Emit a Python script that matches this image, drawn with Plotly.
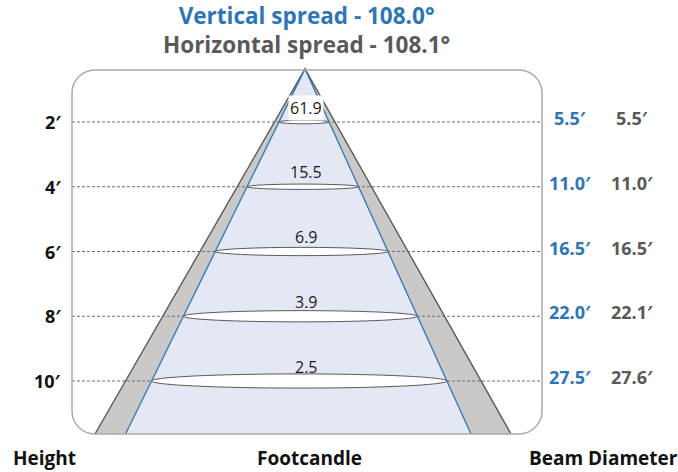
import plotly.graph_objects as go

# ---------------- data ----------------
heights = [2, 4, 6, 8, 10]                      # mounting height (ft)
footcandles = [61.9, 15.5, 6.9, 3.9, 2.5]       # footcandle at each height
vertical_diam = [5.5, 11.0, 16.5, 22.0, 27.5]   # beam diameter, vertical (ft)
horizontal_diam = [5.5, 11.0, 16.5, 22.1, 27.6] # beam diameter, horizontal (ft)
vertical_spread = 108.0
horizontal_spread = 108.1

# ---------------- geometry / style ----------------
W, H = 678, 472
PX_PER_FT = 32.375
Y0 = 57.25


def ft(px):
    return (px - Y0) / PX_PER_FT


BLUE = "#2e75b6"
GREY_T = "#595959"
FONT = "Open Sans"

APEX_X = 305
APEX_H = ft(69)
BASE_H = ft(434)
BLUE_BASE = (125.5, 471)
GREY_BASE = (95, 511)
BOX_L, BOX_R, BOX_T, BOX_B = 72, 542, ft(70), ft(434)


def edge(xb, h):
    return APEX_X + (xb - APEX_X) * (h - APEX_H) / (BASE_H - APEX_H)


fig = go.Figure()
fig.add_trace(go.Scatter(x=[0, W], y=[ft(0), ft(H)], mode="markers",
                         marker=dict(opacity=0), hoverinfo="skip", showlegend=False))

shapes = []
# grey outer cone
shapes.append(dict(type="path", xref="x", yref="y",
                   path=f"M {GREY_BASE[0]},{BASE_H} L {APEX_X},{APEX_H} L {GREY_BASE[1]},{BASE_H} Z",
                   fillcolor="#cbc9c7", line=dict(width=0), layer="below"))
shapes.append(dict(type="path", xref="x", yref="y",
                   path=f"M {GREY_BASE[0]},{BASE_H} L {APEX_X},{APEX_H} L {GREY_BASE[1]},{BASE_H}",
                   line=dict(color="#5a5a5a", width=1.4), layer="below"))
# blue inner cone
shapes.append(dict(type="path", xref="x", yref="y",
                   path=f"M {BLUE_BASE[0]},{BASE_H} L {APEX_X},{APEX_H} L {BLUE_BASE[1]},{BASE_H} Z",
                   fillcolor="#e4e8f5", line=dict(width=0), layer="below"))
shapes.append(dict(type="path", xref="x", yref="y",
                   path=f"M {BLUE_BASE[0]},{BASE_H} L {APEX_X},{APEX_H} L {BLUE_BASE[1]},{BASE_H}",
                   line=dict(color=BLUE, width=1.3), layer="below"))

# dashed height lines and ellipses
for h in heights:
    shapes.append(dict(type="line", xref="x", yref="y", x0=BOX_L, x1=BOX_R, y0=h, y1=h,
                       line=dict(color="#6e6e6e", width=1, dash="3px,2px")))
for h in heights:
    xl, xr = edge(BLUE_BASE[0], h), edge(BLUE_BASE[1], h)
    ry = max(1.8, 0.024 * (xr - xl)) / PX_PER_FT
    shapes.append(dict(type="circle", xref="x", yref="y", x0=xl, x1=xr, y0=h - ry, y1=h + ry,
                       fillcolor="white", line=dict(color="#5a5a5a", width=1)))

# rounded box
rx = 23
ry = 23 / PX_PER_FT
k = 0.5523
L, R, T, B = BOX_L, BOX_R, BOX_T, BOX_B
box = (f"M {L+rx},{T} L {R-rx},{T} "
       f"C {R-rx+k*rx},{T} {R},{T+ry-k*ry} {R},{T+ry} "
       f"L {R},{B-ry} "
       f"C {R},{B-ry+k*ry} {R-rx+k*rx},{B} {R-rx},{B} "
       f"L {L+rx},{B} "
       f"C {L+rx-k*rx},{B} {L},{B-ry+k*ry} {L},{B-ry} "
       f"L {L},{T+ry} "
       f"C {L},{T+ry-k*ry} {L+rx-k*rx},{T} {L+rx},{T} Z")
shapes.append(dict(type="path", xref="x", yref="y", path=box,
                   line=dict(color="#ababab", width=1.5)))

ann = []
title_text = (f"<span style='color:{BLUE}'><b>Vertical spread - {vertical_spread:.1f}°</b></span><br>"
              f"<span style='color:{GREY_T}'><b>Horizontal spread - {horizontal_spread:.1f}°</b></span>")
ann.append(dict(xref="paper", yref="paper", x=306 / W, y=1 - 29.5 / H, xanchor="center", yanchor="middle",
                text=title_text, showarrow=False, align="center",
                font=dict(family=FONT, size=22.5, color=GREY_T)))

for i, h in enumerate(heights):
    ann.append(dict(xref="x", yref="y", x=63, y=h, xanchor="right", yanchor="middle",
                    text=f"<b>{h}′</b>", showarrow=False,
                    font=dict(family=FONT, size=18, color="#111111")))
    ann.append(dict(xref="x", yref="y", x=570, y=h, yshift=4, xanchor="center", yanchor="middle",
                    text=f"<b>{vertical_diam[i]:.1f}′</b>", showarrow=False,
                    font=dict(family=FONT, size=18, color=BLUE)))
    ann.append(dict(xref="x", yref="y", x=632, y=h, yshift=4, xanchor="center", yanchor="middle",
                    text=f"<b>{horizontal_diam[i]:.1f}′</b>", showarrow=False,
                    font=dict(family=FONT, size=18, color=GREY_T)))
    lab = dict(xref="x", yref="y", x=306, y=h, yshift=14.5, xanchor="center", yanchor="middle",
               text=f"{footcandles[i]:.1f}", showarrow=False,
               font=dict(family=FONT, size=16, color="#1a1a1a"))
    if i == 0:
        lab.update(bgcolor="white", borderpad=1)
    ann.append(lab)

for txt, xc, anc in [("Height", 12, "left"), ("Footcandle", 309, "center"), ("Beam Diameter", 603, "center")]:
    ann.append(dict(xref="paper", yref="paper", x=xc / W, y=0, xanchor=anc, yanchor="bottom",
                    text=f"<b>{txt}</b>", showarrow=False, borderpad=0,
                    font=dict(family=FONT, size=19, color="#111111")))

fig.update_layout(
    width=W, height=H, margin=dict(l=0, r=0, t=0, b=0),
    paper_bgcolor="white", plot_bgcolor="white",
    xaxis=dict(range=[0, W], visible=False, fixedrange=True),
    yaxis=dict(range=[ft(H), ft(0)], visible=False, fixedrange=True),
    shapes=shapes, annotations=ann, showlegend=False,
)

fig.write_html("out.html", config={"displayModeBar": False},
               post_script="document.body.style.margin='0';document.body.style.overflow='hidden';")
